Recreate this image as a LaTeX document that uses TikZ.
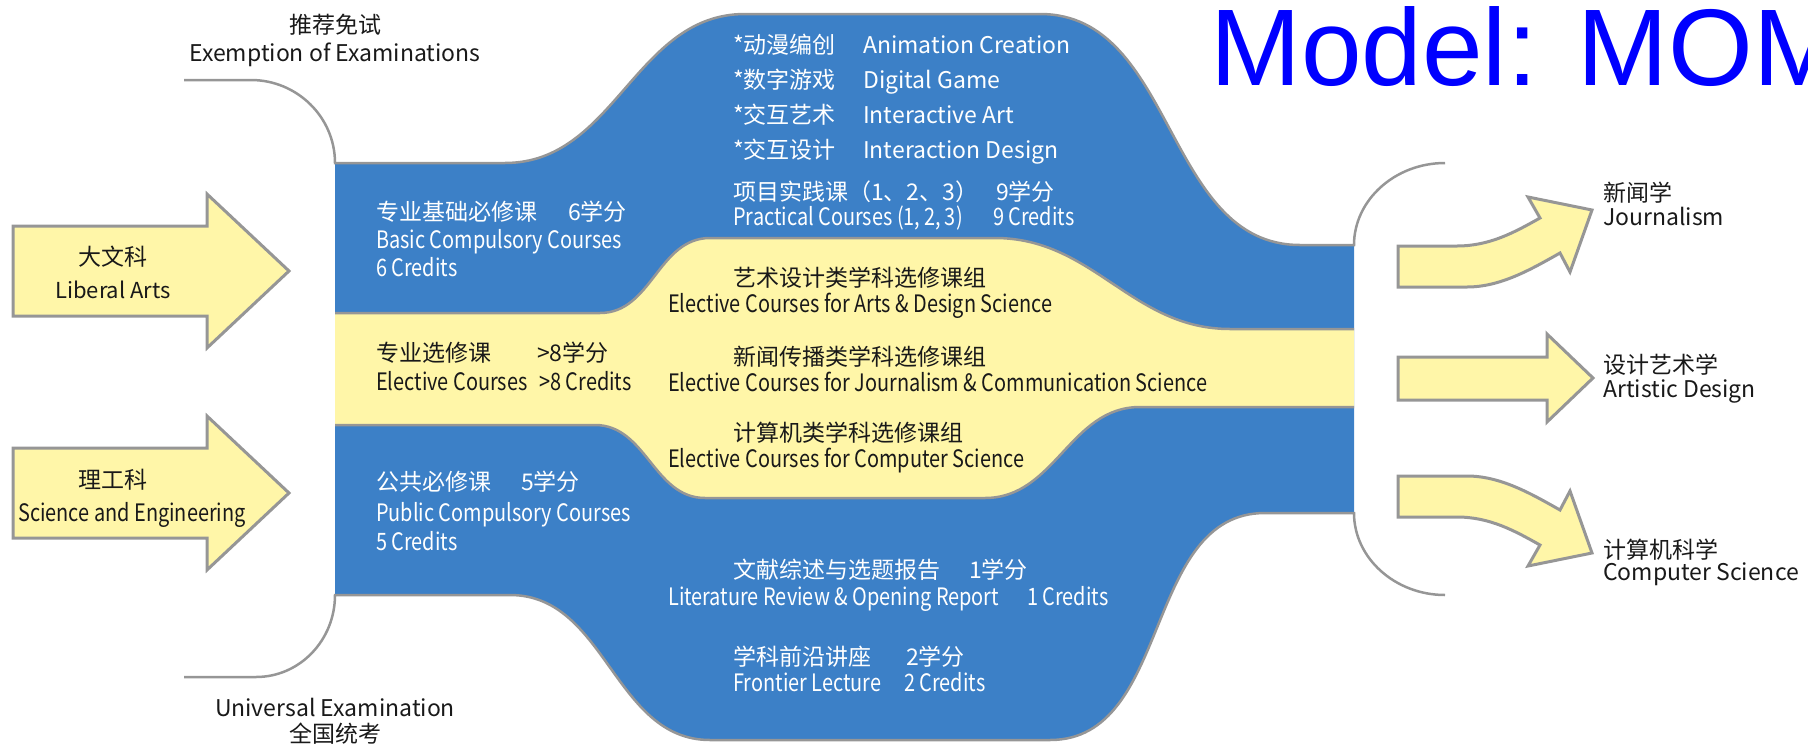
\documentclass[tikz,border=0pt]{standalone}
\usepackage{fontspec}
\setmainfont{Noto Sans CJK SC}
\newfontfamily\narrowfont[FakeStretch=0.83]{Noto Sans CJK SC}
\newfontfamily\modelfont{Liberation Sans}
\definecolor{bandblue}{RGB}{60,128,199}
\definecolor{bandyellow}{RGB}{255,246,168}
\definecolor{rimgray}{RGB}{150,150,150}
\definecolor{inkblack}{RGB}{25,25,25}
\definecolor{modelblue}{RGB}{0,0,255}

\begin{document}
\begin{tikzpicture}[x=1pt,y=-1pt,
    rim/.style={draw=rimgray,line width=2.5pt},
    fatarrow/.style={draw=rimgray,line width=3pt,fill=bandyellow},
    lab/.style={inner sep=0pt,anchor=base,text=inkblack,font=\fontsize{23}{27}\selectfont},
    zh/.style={inner sep=0pt,anchor=base west,font=\fontsize{23}{28}\selectfont},
    en/.style={inner sep=0pt,anchor=base west,font=\narrowfont\fontsize{24}{28}\selectfont},
    onblue/.style={text=white},
    onyellow/.style={text=inkblack}]

    \useasboundingbox (0,0) rectangle (1808,745);
    \clip (0,0) rectangle (1808,745);

    % the two bands
    \fill[bandblue] (335,163) -- (505,163) to[out=0,in=180] (745,14) -- (1040,14) to[out=0,in=180] (1300,245) -- (1354,245)
        -- (1354,513) -- (1265,513) to[out=180,in=0] (1050,740) -- (710,740) to[out=180,in=0] (510,595) -- (335,595) -- cycle;
    \fill[bandyellow] (335,313) -- (600,313) to[out=0,in=180] (710,238) -- (995,238) to[out=0,in=180] (1230,329) -- (1354,329)
        -- (1354,407) -- (1140,407) to[out=180,in=0] (985,498) -- (705,498) to[out=180,in=0] (595,425) -- (335,425) -- cycle;

    % rims and brackets
    \draw[rim] (184,80) -- (251,80) .. controls (297,80) and (335,117) .. (335,163) -- (505,163) to[out=0,in=180] (745,14)
        -- (1040,14) to[out=0,in=180] (1300,245) -- (1354,245) .. controls (1354,200) and (1395,163) .. (1445,163);
    \draw[rim] (184,677) -- (256,677) .. controls (300,677) and (335,640) .. (335,595) -- (510,595) to[out=0,in=180] (710,740)
        -- (1050,740) to[out=0,in=180] (1265,513) -- (1354,513) .. controls (1354,558) and (1395,595) .. (1445,595);
    \draw[rim] (335,313) -- (600,313) to[out=0,in=180] (710,238) -- (995,238) to[out=0,in=180] (1230,329) -- (1354,329);
    \draw[rim] (335,425) -- (595,425) to[out=0,in=180] (705,498) -- (985,498) to[out=0,in=180] (1140,407) -- (1354,407);

    % entry arrows
    \foreach \y in {271,493}
        \draw[fatarrow] (13,\y-45) -- (207,\y-45) -- (207,\y-77) -- (289,\y) -- (207,\y+77) -- (207,\y+45) -- (13,\y+45) -- cycle;
    \node[lab] (arts) at (113,265) {大文科};
    \node[lab,font=\fontsize{22}{26}\selectfont] (artsen) at (113,298) {Liberal Arts};
    \node[lab] (sci) at (113,488) {理工科};
    \node[lab,font=\narrowfont\fontsize{24}{28}\selectfont] (scien) at (132,521) {Science and Engineering};

    % exit arrows
    \foreach \s/\o in {1/0,-1/763}
        \draw[fatarrow,shift={(0,\o)},yscale=\s] (1398,246) -- (1457,246) .. controls (1490,246) and (1515,232) .. (1540,218)
            -- (1528,197) -- (1592,210) -- (1570,272) -- (1560,253) .. controls (1530,270) and (1500,287) .. (1467,287) -- (1398,287) -- cycle;
    \draw[fatarrow] (1398,357) -- (1547,357) -- (1547,334) -- (1593,378) -- (1547,422) -- (1547,400) -- (1398,400) -- cycle;

    % admission
    \node[lab] (exempt) at (335,33) {推荐免试};
    \node[lab] (exempten) at (335,61) {Exemption of Examinations};
    \node[lab] (exam) at (335,716) {Universal Examination};
    \node[lab] (examzh) at (335,742) {全国统考};

    % left column of courses
    \node[zh,onblue] (basic) at (376,220) {专业基础必修课\hspace{31pt}6学分};
    \node[en,onblue] (basicen) at (376,248) {Basic Compulsory Courses};
    \node[en,onblue] (basiccr) at (376,276) {6 Credits};
    \node[zh,onyellow] (elect) at (376,361) {\makebox[161pt][l]{专业选修课}>8学分};
    \node[en,onyellow] (electen) at (376,390) {\makebox[163pt][l]{Elective Courses}>8 Credits};
    \node[zh,onblue] (public) at (376,490) {公共必修课\hspace{30pt}5学分};
    \node[en,onblue] (publicen) at (376,521) {Public Compulsory Courses};
    \node[en,onblue] (publiccr) at (376,550) {5 Credits};

    % directions
    \foreach \zhname/\enname [count=\i] in {*动漫编创/Animation Creation,*数字游戏/Digital Game,*交互艺术/Interactive Art,*交互设计/Interaction Design}
        \node[zh,onblue,font=\fontsize{23}{28}\selectfont] (dir\i) at (733,53+35*\i-35) {\makebox[130pt][l]{\zhname}\enname};
    \node[zh,onblue] (project) at (733,200) {\makebox[263pt][l]{项目实践课（1、2、3）}9学分};
    \node[en,onblue] (projecten) at (733,225) {\makebox[260pt][l]{Practical Courses (1,\,2,\,3)}9 Credits};

    % elective groups
    \foreach \zhname/\enname/\y [count=\i] in {艺术设计类学科选修课组/Arts \& Design Science/286,
            新闻传播类学科选修课组/Journalism \& Communication Science/365,计算机类学科选修课组/Computer Science/441} {
        \node[zh,onyellow] (group\i) at (733,\y) {\zhname};
        \node[en,onyellow] (groupen\i) at (668,\y+26) {Elective Courses for \enname};
    }

    % lower column
    \node[zh,onblue] (review) at (733,578) {\makebox[236pt][l]{文献综述与选题报告}1学分};
    \node[en,onblue] (reviewen) at (668,605) {\makebox[359pt][l]{Literature Review \& Opening Report}1 Credits};
    \node[zh,onblue] (frontier) at (733,665) {\makebox[173pt][l]{学科前沿讲座}2学分};
    \node[en,onblue] (frontieren) at (733,691) {\makebox[171pt][l]{Frontier Lecture}2 Credits};

    % majors
    \node[lab,anchor=base west] (jour) at (1603,201) {新闻学};
    \node[lab,anchor=base west] (jouren) at (1603,225) {Journalism};
    \node[lab,anchor=base west] (art) at (1603,373) {设计艺术学};
    \node[lab,anchor=base west] (arten) at (1603,397) {Artistic Design};
    \node[lab,anchor=base west] (comp) at (1603,558) {计算机科学};
    \node[lab,anchor=base west] (compen) at (1603,580) {Computer Science};

    \node[inner sep=0pt,anchor=base west,text=modelblue,font=\modelfont\fontsize{109}{120}\selectfont] (model) at (1210,85) {Model: MOM};
\end{tikzpicture}
\end{document}
